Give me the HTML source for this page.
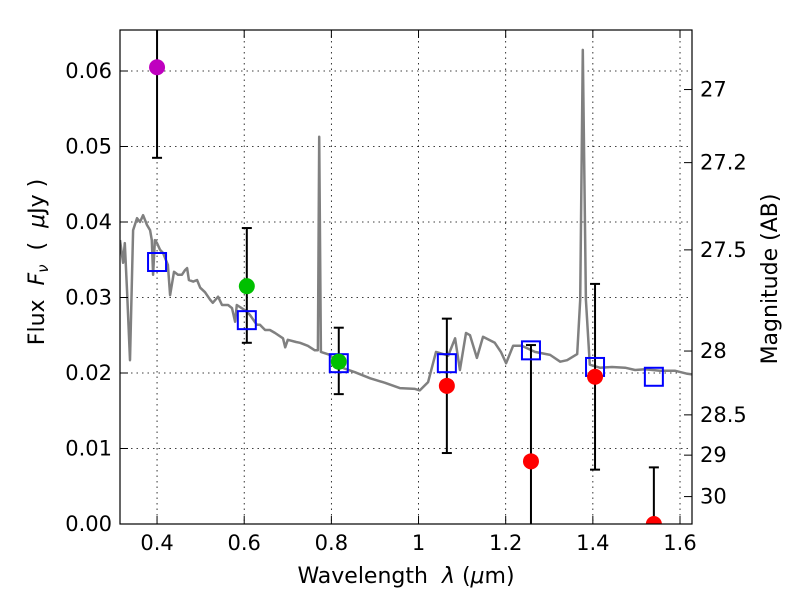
<!DOCTYPE html>
<html><head><meta charset="utf-8"><style>
body{margin:0;background:#fff}
svg text{font-family:"DejaVu Sans","Liberation Sans",sans-serif;fill:#000;white-space:pre}
</style></head><body>
<svg id="chart" width="800" height="600" viewBox="0 0 800 600" xmlns="http://www.w3.org/2000/svg">
<rect width="800" height="600" fill="#fff"/>
<defs><clipPath id="clip"><rect x="120" y="30" width="572" height="494"/></clipPath></defs>
<g id="grid"></g>
<g id="plot" clip-path="url(#clip)"></g>
<rect x="120" y="30" width="572" height="494" fill="none" stroke="#000" stroke-width="1.2"/>
<g id="axes"></g>
<text x="406" y="583" font-size="22" text-anchor="middle">Wavelength&#160;&#160;<tspan font-style="italic">λ</tspan>&#160;(<tspan font-style="italic">μ</tspan>m)</text>
<text transform="translate(44,262) rotate(-90)" font-size="22" text-anchor="middle">Flux&#160;&#160;<tspan font-style="italic">F</tspan><tspan font-style="italic" font-size="15" dy="4">ν</tspan><tspan dy="-4">&#160;&#160;(&#160;&#160;</tspan><tspan font-style="italic">μ</tspan>Jy&#160;)</text>
<text transform="translate(777,279) rotate(-90)" font-size="22" text-anchor="middle">Magnitude (AB)</text>
</svg>
<script>
const specWave=[0.315,0.322,0.326,0.331,0.338,0.345,0.354,0.361,0.368,0.377,0.384,0.388,0.391,0.395,0.400,0.407,0.414,0.425,0.430,0.439,0.448,0.457,0.464,0.469,0.473,0.483,0.492,0.499,0.510,0.522,0.528,0.540,0.549,0.563,0.572,0.579,0.583,0.602,0.613,0.629,0.636,0.648,0.659,0.671,0.689,0.694,0.700,0.719,0.728,0.746,0.762,0.769,0.772,0.776,0.797,0.820,0.854,0.889,0.923,0.957,0.992,1.003,1.022,1.040,1.068,1.084,1.095,1.109,1.118,1.134,1.148,1.175,1.189,1.201,1.217,1.237,1.267,1.302,1.325,1.341,1.364,1.371,1.377,1.384,1.393,1.416,1.444,1.474,1.497,1.520,1.554,1.588,1.617,1.630];
const specFlux=[.0376,.0346,.0372,.0310,.0217,.0389,.0405,.0400,.0409,.0396,.0389,.0376,.0330,.0376,.0372,.0363,.0359,.0343,.0303,.0334,.0330,.0330,.0336,.0339,.0323,.0321,.0323,.0313,.0307,.0297,.0293,.0301,.0290,.0290,.0286,.0268,.0290,.0283,.0277,.0264,.0264,.0257,.0257,.0253,.0246,.0234,.0244,.0241,.0240,.0236,.0230,.0230,.0513,.0228,.0224,.0208,.0201,.0193,.0187,.0180,.0179,.0177,.0188,.0228,.0223,.0246,.0204,.0253,.0250,.0220,.0248,.0240,.0228,.0213,.0236,.0236,.0228,.0224,.0215,.0217,.0225,.0297,.0628,.0297,.0211,.0207,.0208,.0207,.0204,.0205,.0203,.0203,.0199,.0198];
const obsWave=[0.400,0.606,0.817,1.065,1.258,1.405,1.540];
const obsFlux=[0.0605,0.0315,0.0215,0.0183,0.0083,0.0195,0.0];
const obsLow=[0.0485,0.0240,0.0172,0.0094,-0.005,0.0072,-0.005];
const obsHigh=[0.080,0.0392,0.0260,0.0272,0.0237,0.0318,0.0075];
const obsColor=["#bf00bf","#00c000","#00c000","#ff0000","#ff0000","#ff0000","#ff0000"];
const modelFlux=[0.0347,0.0270,0.0213,0.0213,0.0230,0.0208,0.0195];
const xTicks=[0.4,0.6,0.8,1.0,1.2,1.4,1.6];
const xTickLabels=["0.4","0.6","0.8","1","1.2","1.4","1.6"];
const yTicks=[0,0.01,0.02,0.03,0.04,0.05,0.06];
const yTickLabels=["0.00","0.01","0.02","0.03","0.04","0.05","0.06"];
const magTicks=[27,27.2,27.5,28,28.5,29,30];
const magTickLabels=["27","27.2","27.5","28","28.5","29","30"];

const X0=120,X1=692,Y0=524,Y1=30,XMIN=0.315,XMAX=1.6275,YMIN=0,YMAX=0.06543;
const sx=v=>X0+(v-XMIN)/(XMAX-XMIN)*(X1-X0);
const sy=v=>Y0-(v-YMIN)/(YMAX-YMIN)*(Y0-Y1);
const NS="http://www.w3.org/2000/svg";
function mk(tag,attrs,parent){const e=document.createElementNS(NS,tag);for(const k in attrs)e.setAttribute(k,attrs[k]);parent.appendChild(e);return e;}
const grid=document.getElementById('grid'),plot=document.getElementById('plot'),axes=document.getElementById('axes');

xTicks.forEach((t,i)=>{
  const x=sx(t);
  const g=mk('line',{x1:x,x2:x,y1:Y1,y2:Y0,stroke:'#000','stroke-width':0.8,'stroke-dasharray':'1.5,4'},grid);
  
  
  mk('line',{x1:x,x2:x,y1:Y0,y2:Y0-8,stroke:'#000','stroke-width':1},axes);
  mk('line',{x1:x,x2:x,y1:Y1,y2:Y1+8,stroke:'#000','stroke-width':1},axes);
  const tx=mk('text',{x:x,y:Y0+26,'font-size':21,'text-anchor':'middle'},axes);
  tx.textContent=xTickLabels[i];
  
  
});
yTicks.forEach((t,i)=>{
  const y=sy(t);
  const g=mk('line',{x1:X0,x2:X1,y1:y,y2:y,stroke:'#000','stroke-width':0.8,'stroke-dasharray':'1.5,4'},grid);
  
  
  mk('line',{x1:X0,x2:X0+8,y1:y,y2:y,stroke:'#000','stroke-width':1},axes);
  const tx=mk('text',{x:X0-8,y:y+7,'font-size':21,'text-anchor':'end'},axes);
  tx.textContent=yTickLabels[i];
  
  
});
magTicks.forEach((m,i)=>{
  const y=sy(Math.pow(10,(23.9-m)/2.5));
  mk('line',{x1:X1,x2:X1-8,y1:y,y2:y,stroke:'#000','stroke-width':1},axes);
  const tx=mk('text',{x:X1+8,y:y+7,'font-size':21},axes);
  tx.textContent=magTickLabels[i];
  
  
});

let d='';
specWave.forEach((w,i)=>{d+=(i?'L':'M')+sx(w).toFixed(1)+','+sy(specFlux[i]).toFixed(1);});
const spec=mk('path',{d:d,fill:'none',stroke:'#808080','stroke-width':2.5,'stroke-linejoin':'round'},plot);



obsWave.forEach((w,i)=>{
  const x=sx(w);
  const eb=mk('g',{},plot);
  
  
  mk('line',{x1:x,x2:x,y1:sy(obsLow[i]),y2:sy(obsHigh[i]),stroke:'#000','stroke-width':2},eb);
  mk('line',{x1:x-5,x2:x+5,y1:sy(obsLow[i]),y2:sy(obsLow[i]),stroke:'#000','stroke-width':2},eb);
  mk('line',{x1:x-5,x2:x+5,y1:sy(obsHigh[i]),y2:sy(obsHigh[i]),stroke:'#000','stroke-width':2},eb);
});
obsWave.forEach((w,i)=>{
  const sq=mk('rect',{x:sx(w)-9,y:sy(modelFlux[i])-9,width:18,height:18,fill:'none',stroke:'#0000ff','stroke-width':2},plot);
  
  
});
obsWave.forEach((w,i)=>{
  const c=mk('circle',{cx:sx(w),cy:sy(obsFlux[i]),r:8,fill:obsColor[i]},plot);
  
  
});
</script>
</body></html>
